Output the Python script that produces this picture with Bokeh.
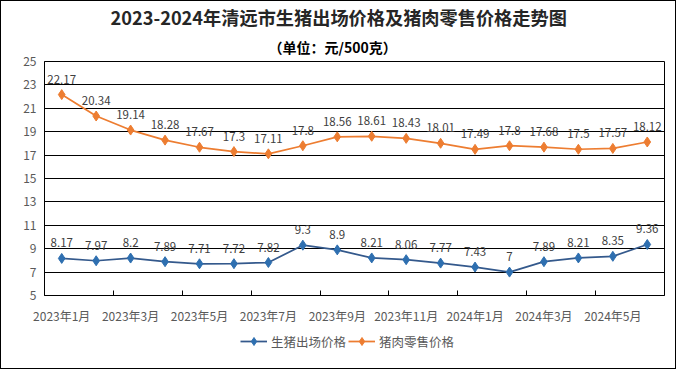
from bokeh.plotting import figure
from bokeh.layouts import column
from bokeh.models import (ColumnDataSource, Range1d, FixedTicker, Title, LabelSet,
                          Legend, LegendItem)
from bokeh.embed import file_html
from bokeh.resources import INLINE
from bokeh.core.properties import value

# ---------------- data ----------------
months = ["2023年1月", "2023年2月", "2023年3月", "2023年4月", "2023年5月", "2023年6月",
          "2023年7月", "2023年8月", "2023年9月", "2023年10月", "2023年11月", "2023年12月",
          "2024年1月", "2024年2月", "2024年3月", "2024年4月", "2024年5月", "2024年6月"]
hog_prices = [8.17, 7.97, 8.2, 7.89, 7.71, 7.72, 7.82, 9.3, 8.9, 8.21, 8.06, 7.77,
              7.43, 7, 7.89, 8.21, 8.35, 9.36]
pork_prices = [22.17, 20.34, 19.14, 18.28, 17.67, 17.3, 17.11, 17.8, 18.56, 18.61, 18.43, 18.01,
               17.49, 17.8, 17.68, 17.5, 17.57, 18.12]
series_names = ["生猪出场价格", "猪肉零售价格"]
y_ticks = [5, 7, 9, 11, 13, 15, 17, 19, 21, 23, 25]
title_text = "2023-2024年清远市生猪出场价格及猪肉零售价格走势图"
subtitle_text = "（单位：元/500克）"

FONT_NAME = "Noto Sans CJK SC"
BLUE_LINE = "#34598C"
BLUE_MARK = "#2E6FB0"
ORANGE = "#ED7D31"
AXIS_TXT = "#595959"
LBL_TXT = "#404040"

n = len(months)
xs = [i + 0.5 for i in range(n)]

src = ColumnDataSource(dict(
    x=xs,
    hog=hog_prices,
    pork=pork_prices,
    hog_txt=["{:g}".format(v) for v in hog_prices],
    pork_txt=["{:g}".format(v) for v in pork_prices],
))

W = 674
p = figure(width=W, height=326, output_backend="svg", toolbar_location=None,
           x_range=Range1d(0, n), y_range=Range1d(y_ticks[0], y_ticks[-1]),
           min_border_left=43, min_border_right=11, min_border_top=59, min_border_bottom=32)
p.background_fill_color = "white"
p.border_fill_color = "white"
p.outline_line_color = "black"
p.outline_line_width = 1

# x axis
xa = p.xaxis[0]
label_idx = list(range(0, n, 2))
xa.ticker = FixedTicker(ticks=[xs[i] for i in label_idx],
                        minor_ticks=[float(i) for i in range(2, n, 2)])
xa.major_label_overrides = {xs[i]: months[i] for i in label_idx}
xa.major_tick_line_color = None
xa.minor_tick_line_color = "black"
xa.minor_tick_in = 5
xa.minor_tick_out = 0
xa.axis_line_color = "black"
xa.major_label_text_font = FONT_NAME
xa.major_label_text_font_size = "12px"
xa.major_label_text_color = AXIS_TXT
xa.major_label_standoff = 5

# y axis
ya = p.yaxis[0]
ya.ticker = FixedTicker(ticks=y_ticks)
ya.major_tick_line_color = None
ya.minor_tick_line_color = None
ya.major_tick_in = 0
ya.major_tick_out = 0
ya.axis_line_color = "black"
ya.major_label_text_font = FONT_NAME
ya.major_label_text_font_size = "12px"
ya.major_label_text_color = AXIS_TXT
ya.major_label_standoff = 8

p.xgrid.visible = False
p.ygrid.ticker = FixedTicker(ticks=y_ticks)
p.ygrid.grid_line_color = "black"
p.ygrid.grid_line_width = 1

# series
p.line("x", "hog", source=src, line_color=BLUE_LINE, line_width=1.75)
p.scatter("x", "hog", source=src, marker="diamond", size=10,
          fill_color=BLUE_MARK, line_color=BLUE_MARK)
p.line("x", "pork", source=src, line_color=ORANGE, line_width=1.75)
p.scatter("x", "pork", source=src, marker="diamond", size=10,
          fill_color=ORANGE, line_color=ORANGE)

for col, txt in (("hog", "hog_txt"), ("pork", "pork_txt")):
    p.add_layout(LabelSet(x="x", y=col, text=txt, source=src, text_align="center",
                          text_baseline="bottom", y_offset=11, text_font=value(FONT_NAME),
                          text_font_size="11.5px", text_color=LBL_TXT))

# main title via the figure's own title
p.title.text = title_text
p.title.align = "left"
p.title.offset = 66
p.title.text_font = FONT_NAME
p.title.text_font_style = "bold"
p.title.text_font_size = "18.2px"
p.title.text_color = "#262626"
p.title.standoff = 0

# subtitle
p.add_layout(Title(text=subtitle_text, align="left", offset=224, standoff=10,
                   text_font=FONT_NAME, text_font_style="bold", text_font_size="14px",
                   text_color="#000000"), "above")

# legend strip (its own small figure, so the legend is drawn inside a frame)
q = figure(width=W, height=41, output_backend="svg", toolbar_location=None,
           x_axis_type=None, y_axis_type=None,
           x_range=Range1d(0, 1), y_range=Range1d(0, 1),
           min_border_left=0, min_border_right=0, min_border_top=0, min_border_bottom=0)
q.outline_line_color = None
q.background_fill_color = "white"
q.border_fill_color = "white"
# key source: first data point; it falls outside this strip's range, so only the legend shows it
key_src = ColumnDataSource(dict(x=[xs[0]], hog=[hog_prices[0]], pork=[pork_prices[0]]))
k1l = q.line("x", "hog", source=key_src, line_color=BLUE_LINE, line_width=1.75)
k1m = q.scatter("x", "hog", source=key_src, marker="diamond", size=10,
                fill_color=BLUE_MARK, line_color=BLUE_MARK)
k2l = q.line("x", "pork", source=key_src, line_color=ORANGE, line_width=1.75)
k2m = q.scatter("x", "pork", source=key_src, marker="diamond", size=10,
                fill_color=ORANGE, line_color=ORANGE)

legend = Legend(items=[LegendItem(label=series_names[0], renderers=[k1l, k1m]),
                       LegendItem(label=series_names[1], renderers=[k2l, k2m])],
                location=(196, 17), orientation="horizontal",
                label_text_font=FONT_NAME, label_text_font_size="12.5px",
                label_text_color=AXIS_TXT, glyph_width=27, glyph_height=20,
                label_standoff=4, spacing=2, padding=0, margin=0,
                border_line_color=None, background_fill_alpha=0)
q.add_layout(legend)

layout = column(p, q, spacing=0)
layout.styles = {"border": "1px solid #000000"}

open("out.html", "w").write(file_html(layout, INLINE))
